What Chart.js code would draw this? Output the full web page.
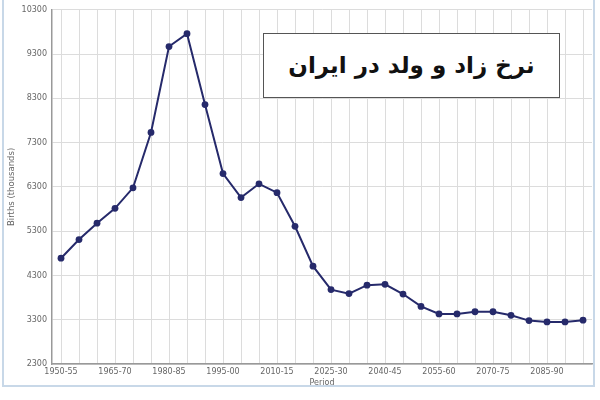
<!DOCTYPE html>
<html>
<head>
<meta charset="utf-8">
<script src="https://cdn.jsdelivr.net/npm/chart.js@4.4.1/dist/chart.umd.min.js"></script>
<style>
    body { margin: 0; background: #fff; }
    #wrap { position: relative; width: 600px; height: 400px; }
    #titleBox {
        position: absolute; left: 263px; top: 33px; width: 295px; height: 63px;
        border: 1.5px solid #555; background: #fff;
        text-align: center; line-height: 63px;
        font-family: "DejaVu Sans", sans-serif; font-weight: bold; font-size: 23px; color: #111;
    }
</style>
</head>
<body>
<div id="wrap">
    <canvas id="birthChart" width="600" height="400"></canvas>
    <div id="titleBox" dir="rtl" lang="fa">نرخ زاد و ولد در ایران</div>
</div>
<script>
// data (births, thousands)
const periods = ['1950-55', '1955-60', '1960-65', '1965-70', '1970-75', '1975-80', '1980-85', '1985-90',
    '1990-95', '1995-00', '2000-05', '2005-10', '2010-15', '2015-20', '2020-25', '2025-30', '2030-35',
    '2035-40', '2040-45', '2045-50', '2050-55', '2055-60', '2060-65', '2065-70', '2070-75', '2075-80',
    '2080-85', '2085-90', '2090-95', '2095-00'];
const births = [4690, 5110, 5480, 5815, 6280, 7530, 9470, 9760, 8160, 6600, 6060, 6370, 6170, 5410, 4510,
    3980, 3890, 4080, 4100, 3880, 3600, 3430, 3430, 3480, 3480, 3400, 3280, 3250, 3250, 3290];
const yMin = 2300, yMax = 10300, yStep = 1000;

// light frame round the chart
const framePlugin = {
    id: 'frame',
    beforeDraw(chart) {
        const c = chart.ctx;
        c.save();
        c.strokeStyle = '#c8d8e8';
        c.lineWidth = 2;
        c.beginPath();
        c.moveTo(3, 0);
        c.lineTo(3, 386);
        c.lineTo(594, 386);
        c.lineTo(594, 0);
        c.stroke();
        c.restore();
    }
};

const ctx = document.getElementById('birthChart').getContext('2d');
const chart = new Chart(ctx, {
    type: 'line',
    data: {
        labels: periods,
        datasets: [{
            label: 'Births',
            data: births,
            borderColor: '#262a6b',
            backgroundColor: '#262a6b',
            borderWidth: 2,
            pointRadius: 3.4,
            pointBorderWidth: 0,
            tension: 0
        }]
    },
    options: {
        responsive: false,
        animation: false,
        devicePixelRatio: 1,
        layout: { padding: { left: 4, top: 6, right: 8, bottom: 12 } },
        plugins: { legend: { display: false }, tooltip: { enabled: false } },
        scales: {
            x: {
                offset: true,
                grid: { color: '#dcdcdc', drawTicks: false, offset: false },
                border: { color: '#999', width: 1.5 },
                ticks: {
                    autoSkip: false, maxRotation: 0, padding: 3,
                    color: '#666', font: { family: 'DejaVu Sans', size: 8 },
                    callback: function (v, i) { return i % 3 === 0 ? this.getLabelForValue(v) : ''; }
                },
                title: {
                    display: true, text: 'Period', color: '#666',
                    font: { family: 'DejaVu Sans', size: 8 }, padding: { top: 0, bottom: 0 }
                },
                afterFit: (s) => { s.height = 24; }
            },
            y: {
                min: yMin, max: yMax,
                grid: { color: '#dcdcdc', drawTicks: false },
                border: { color: '#999', width: 1.5 },
                ticks: {
                    stepSize: yStep, padding: 5,
                    color: '#666', font: { family: 'DejaVu Sans', size: 8 },
                    callback: (v) => String(v)
                },
                title: {
                    display: true, text: 'Births (thousands)', color: '#666',
                    font: { family: 'DejaVu Sans', size: 8.5 }, padding: { top: 3, bottom: 0 }
                },
                afterFit: (s) => { s.width = 48; }
            }
        }
    },
    plugins: [framePlugin]
});
</script>
</body>
</html>
